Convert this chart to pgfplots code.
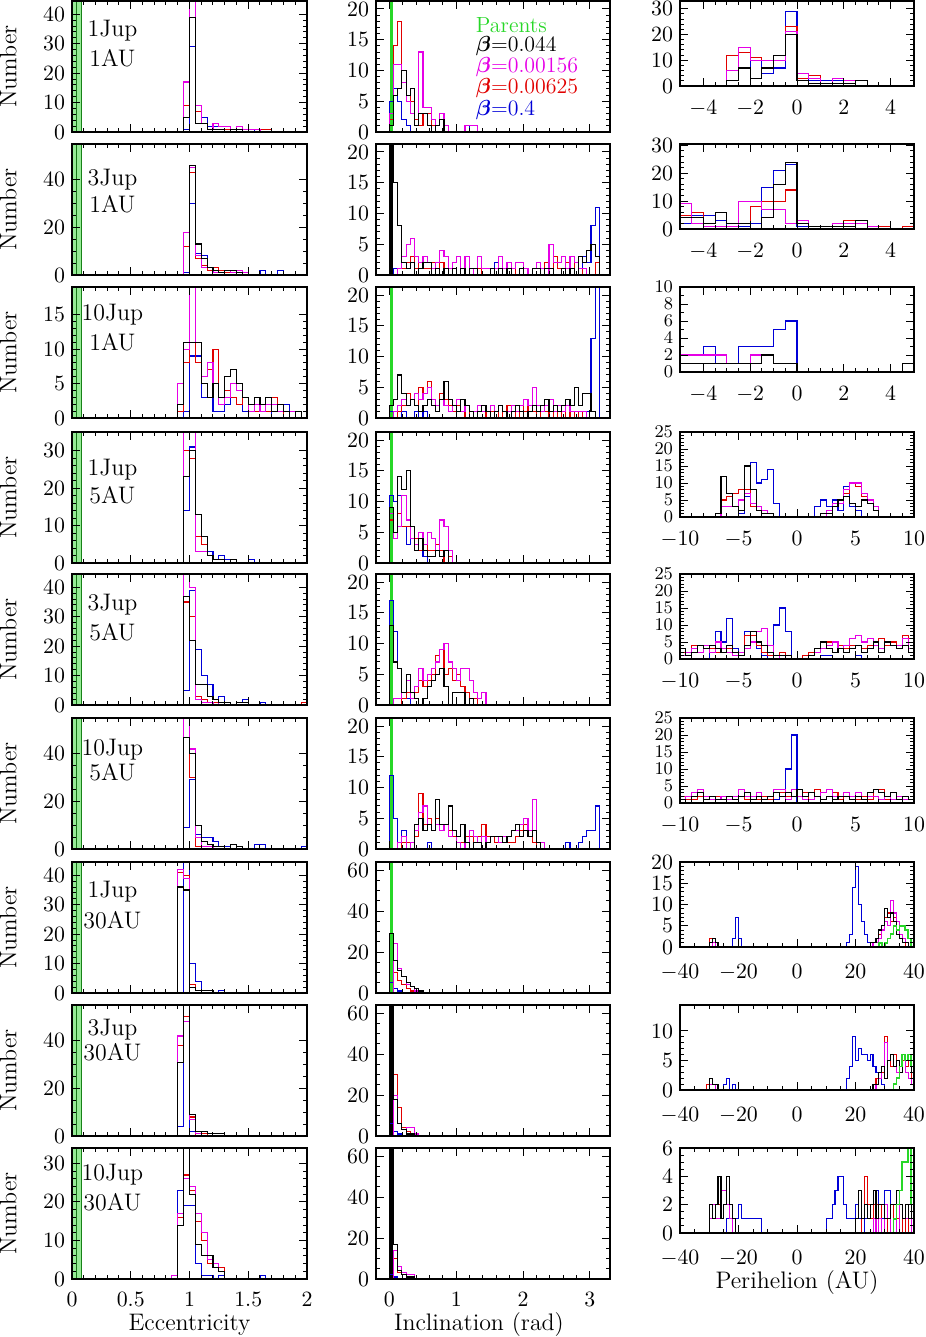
\documentclass[border=0pt]{standalone}
\usepackage{amsmath}
\usepackage{pgfplots}
\usepackage{pgfplotstable}
\pgfplotsset{compat=1.18}

\definecolor{pmag}{RGB}{230,0,230}
\definecolor{pred}{RGB}{225,0,0}
\definecolor{pblue}{RGB}{0,0,215}
\definecolor{pgreen}{RGB}{40,215,40}
\definecolor{pgfill}{RGB}{150,235,150}

\pgfplotsset{
  panel/.style={scale only axis, axis on top, clip mode=individual,
    tick align=inside, major tick length=4bp, minor tick length=2bp,
    every tick/.append style={line width=0.5bp, black},
    axis line style={line width=0.8bp},
    tick label style={font=\fontsize{11}{12}\selectfont},
    label style={font=\fontsize{12}{14}\selectfont},
    ymin=0},
  hist/.style={const plot mark left, no marks, line width=0.55bp, forget plot},
  ecc/.style={panel, width=117.5bp, height=65.5bp, xmin=0, xmax=2,
    xtick={0,0.5,1,1.5,2}, minor x tick num=4,
    xticklabel style={yshift=-3bp},
    ylabel={Number}, ylabel style={at={(axis description cs:-0.272,0.5)}, anchor=center}},
  inc/.style={panel, width=117bp, height=65.5bp, xmin=-0.2, xmax=3.3,
    xtick={0,1,2,3}, minor x tick num=4, xticklabel style={yshift=-3bp}},
  per/.style={panel, width=117bp, height=42.5bp, xticklabel style={yshift=-3.5bp}},
  tight/.style={yticklabel style={font=\fontsize{9.5}{10}\selectfont}},
  nolab/.style={xticklabels={}},
  pA/.style={xmin=-5, xmax=5, xtick={-4,-2,0,2,4}, minor x tick num=3},
  pB/.style={tight, xmin=-10, xmax=10, xtick={-10,-5,0,5,10}, minor x tick num=4,
    ymax=25, ytick={0,5,...,25}, minor y tick num=4},
  pC/.style={xmin=-40, xmax=40, xtick={-40,-20,0,20,40}, minor x tick num=3,
    xticklabel style={yshift=-1.5bp}},
  iA/.style={ymax=21.3, ytick={0,5,...,20}, minor y tick num=4},
  iB/.style={ymax=64, ytick={0,20,40,60}, minor y tick num=3},
}

\newcommand{\hists}[1]{%
  \addplot[hist, pblue] table[x=x,y=b]{#1};
  \addplot[hist, pred] table[x=x,y=r]{#1};
  \addplot[hist, pmag] table[x=x,y=m]{#1};
  \addplot[hist, black] table[x=x,y=k]{#1};}
\newcommand{\greenhist}[1]{\addplot[hist, pgreen, line width=0.8bp] table[x=x,y=g]{#1};}
\newcommand{\greenE}{%
  \addplot[fill=pgfill, draw=pgreen!60!black, line width=0.4bp, forget plot] coordinates {(0,200) (0.08,200)} \closedcycle;
  \addplot[pgreen!55!black, line width=0.4bp, forget plot] coordinates {(0.035,0) (0.035,200)};}
\newcommand{\greenI}[1]{%
  \addplot[fill=#1, draw=none, forget plot] coordinates {(0.01,200) (0.05,200)} \closedcycle;}
\newcommand{\lab}[4]{%
  \node[font=\fontsize{12}{14}\selectfont] at (rel axis cs:0.172,#1) {#2};
  \node[font=\fontsize{12}{14}\selectfont] at (rel axis cs:0.172,#3) {#4};}

% ---------------- eccentricity (bin width 0.05) ----------------
\pgfplotstableread{
x k m r b
0.95 0 0 0 0
0.95 5 17 9 1
1.00 39 60 50 29
1.05 3 9 7 9
1.10 3 3 3 5
1.15 1 1 1 2
1.20 1 3 1 2
1.25 1 2 1 2
1.30 0 2 1 2
1.35 1 1 1 1
1.40 1 2 2 1
1.45 0 1 1 1
1.50 0 1 1 1
1.55 0 1 1 0
1.60 0 0 1 0
1.65 0 0 1 0
1.70 0 0 0 0
}\eccA
\pgfplotstableread{
x k m r b
0.95 0 0 0 0
0.95 0 18 12 1
1.00 46 45 43 30
1.05 13 8 7 9
1.10 7 3 4 8
1.15 3 3 2 2
1.20 2 1 3 2
1.25 1 1 2 1
1.30 2 2 1 2
1.35 2 1 2 1
1.40 1 2 2 2
1.45 0 1 1 0
1.50 0 0 0 0
1.60 0 0 0 2
1.65 0 0 0 0
1.75 0 0 0 2
1.80 0 0 0 0
2.00 0 0 0 0
}\eccB
\pgfplotstableread{
x k m r b
0.90 0 0 0 0
0.90 2 5 1 0
0.95 11 10 8 1
1.00 11 25 11 9
1.05 11 11 8 9
1.10 5 6 6 3
1.15 3 8 7 3
1.20 5 5 10 1
1.25 3 2 3 1
1.30 6 3 4 2
1.35 7 5 3 3
1.40 5 4 2 2
1.45 3 3 3 1
1.50 2 1 2 1
1.55 3 2 1 1
1.60 2 1 2 1
1.65 3 2 1 2
1.70 1 2 3 0
1.75 2 1 1 0
1.80 1 1 0 2
1.85 0 1 0 0
1.90 1 0 0 0
1.95 0 0 0 0
}\eccC
\pgfplotstableread{
x k m r b
0.95 0 0 0 0
0.95 23 40 30 14
1.00 30 40 28 31
1.05 13 3 7 7
1.10 7 3 5 5
1.15 2 2 2 3
1.20 1 1 1 1
1.25 1 1 1 2
1.30 0 0 0 1
1.35 1 1 0 1
1.40 0 0 0 0
1.50 0 0 0 1
1.55 0 0 0 0
}\eccD
\pgfplotstableread{
x k m r b
0.95 0 0 0 0
0.95 37 50 35 5
1.00 22 40 30 39
1.05 7 2 3 19
1.10 7 1 2 10
1.15 3 1 1 7
1.20 2 0 1 2
1.25 1 1 0 3
1.30 1 0 0 1
1.35 0 0 0 0
1.40 1 0 0 1
1.45 1 0 0 2
1.50 0 0 0 0
1.60 0 0 0 1
1.65 0 0 0 0
1.95 0 0 1 0
2.00 0 0 0 0
}\eccE
\pgfplotstableread{
x k m r b
0.95 0 0 0 0
0.95 47 60 60 9
1.00 40 42 30 29
1.05 10 5 1 6
1.10 3 1 1 5
1.15 2 1 1 5
1.20 1 0 0 3
1.25 1 0 0 1
1.30 0 0 0 1
1.35 2 0 0 0
1.40 1 0 0 1
1.45 0 0 0 0
1.55 0 0 0 2
1.60 0 0 0 2
1.65 0 0 0 0
1.95 0 0 0 1
2.00 0 0 0 0
}\eccF
\pgfplotstableread{
x k m r b
0.90 0 0 0 0
0.90 36 42 41 0
0.95 35 39 40 50
1.00 2 2 3 10
1.05 1 1 1 4
1.10 1 0 0 1
1.15 1 0 0 1
1.20 0 0 0 0
1.25 0 0 0 1
1.30 0 0 0 0
}\eccG
\pgfplotstableread{
x k m r b
0.90 0 0 0 0
0.90 31 42 38 4
0.95 60 48 50 60
1.00 9 7 8 2
1.05 2 1 0 1
1.10 2 0 1 0
1.15 1 0 0 0
1.20 1 0 0 0
1.25 1 0 0 0
1.30 0 0 0 0
}\eccH
\pgfplotstableread{
x k m r b
0.85 0 0 0 0
0.85 0 1 1 0
0.90 14 17 16 23
0.95 40 26 27 19
1.00 22 24 23 19
1.05 9 17 15 4
1.10 6 12 10 1
1.15 6 5 4 1
1.20 3 4 3 0
1.25 2 2 3 1
1.30 0 0 0 0
1.60 0 0 0 1
1.65 0 0 0 0
}\eccI

% ---------------- inclination (bin width pi/50) ----------------
\pgfplotstableread{
x k m r b
0 0 0 0 0
0 1 3 2 5
0.063 6 11 14 7
0.126 7 11 18 5
0.188 10 8 8 2
0.251 6 5 6 1
0.314 7 3 5 0
0.377 1 1 2 0
0.440 3 13 1 0
0.503 3 4 3 0
0.565 1 4 3 0
0.628 0 2 1 0
0.691 1 1 0 0
0.754 2 3 0 0
0.817 0 1 0 0
0.880 0 0 0 0
1.131 0 1 0 1
1.194 0 1 0 0
1.257 0 1 0 0
1.319 0 0 0 0
}\incA
\pgfplotstableread{
x k m r b
0 0 0 0 0
0 30 0 0 0
0.063 15 0 0 1
0.126 8 1 1 0
0.188 2 3 1 0
0.251 1 5 2 0
0.314 2 6 3 0
0.377 0 3 1 0
0.440 1 2 2 0
0.503 2 3 1 0
0.565 2 2 1 0
0.628 0 1 2 0
0.691 1 2 0 0
0.754 0 4 2 0
0.817 1 3 1 0
0.880 0 1 0 0
0.942 1 2 1 0
1.005 0 3 0 0
1.068 1 1 1 0
1.131 0 3 0 0
1.194 1 1 1 0
1.257 1 0 1 0
1.319 0 3 1 0
1.382 0 1 0 0
1.445 0 1 0 0
1.508 1 0 1 0
1.571 0 1 0 2
1.634 1 3 0 0
1.696 0 1 0 0
1.759 1 2 0 0
1.822 0 1 1 0
1.885 0 2 0 0
1.948 1 2 0 0
2.011 0 1 1 0
2.073 0 0 0 0
2.136 1 1 0 0
2.199 1 2 0 0
2.262 0 1 1 0
2.325 1 0 2 0
2.388 1 5 1 0
2.450 0 2 3 0
2.513 0 2 1 0
2.576 1 3 1 0
2.639 0 1 2 0
2.702 1 3 1 0
2.765 0 2 2 0
2.827 3 1 0 0
2.890 2 1 1 3
2.953 4 0 0 2
3.016 5 0 0 8
3.079 3 0 2 11
3.142 0 0 0 0
}\incB
\pgfplotstableread{
x k m r b
0 0 0 0 0
0 2 0 0 1
0.063 3 1 0 1
0.126 7 2 1 0
0.188 4 3 2 1
0.251 2 2 4 0
0.314 3 3 3 0
0.377 2 4 2 1
0.440 1 3 5 0
0.503 2 4 4 1
0.565 3 5 6 0
0.628 2 3 3 0
0.691 1 2 2 0
0.754 3 3 4 0
0.817 6 2 3 0
0.880 3 1 2 0
0.942 2 2 1 0
1.005 1 3 2 0
1.068 3 1 1 0
1.131 2 2 0 0
1.194 1 1 1 0
1.257 0 1 1 0
1.319 1 2 2 0
1.382 2 1 1 0
1.445 1 1 0 0
1.508 0 2 1 0
1.571 1 1 1 0
1.634 2 2 0 0
1.696 1 1 1 0
1.759 0 1 2 0
1.822 1 2 1 0
1.885 2 1 0 0
1.948 1 2 2 0
2.011 0 3 1 0
2.073 1 2 2 0
2.136 2 5 1 0
2.199 1 2 0 0
2.262 2 1 1 0
2.325 3 2 1 0
2.388 1 3 0 0
2.450 2 1 1 0
2.513 1 2 0 0
2.576 2 1 1 0
2.639 3 2 0 0
2.702 2 1 1 0
2.765 5 1 0 0
2.827 2 1 1 0
2.890 4 1 0 0
2.953 4 0 0 1
3.016 1 0 0 13
3.079 0 0 0 25
3.142 0 0 0 0
}\incC
\pgfplotstableread{
x k m r b
0 0 0 0 0
0 9 8 7 11
0.063 5 4 5 10
0.126 14 6 8 11
0.188 12 11 6 6
0.251 15 7 6 3
0.314 6 4 6 6
0.377 2 3 4 3
0.440 4 5 2 2
0.503 2 3 3 1
0.565 1 5 2 0
0.628 1 4 2 0
0.691 2 2 3 0
0.754 1 7 2 0
0.817 2 6 0 0
0.880 0 2 1 0
0.942 0 0 0 0
}\incD
\pgfplotstableread{
x k m r b
0 0 0 0 0
0 13 0 0 17
0.063 7 1 0 12
0.126 6 1 0 6
0.188 2 2 1 2
0.251 5 4 2 1
0.314 2 1 1 0
0.377 1 3 2 0
0.440 0 6 4 0
0.503 1 4 3 0
0.565 3 5 4 0
0.628 4 6 5 0
0.691 5 7 8 0
0.754 6 9 9 0
0.817 3 10 5 0
0.880 0 7 6 0
0.942 2 6 4 0
1.005 2 4 5 0
1.068 2 6 3 0
1.131 0 6 2 0
1.194 1 4 1 0
1.257 0 2 1 0
1.319 0 1 0 0
1.382 0 2 0 0
1.445 0 0 0 0
}\incE
\pgfplotstableread{
x k m r b
0 0 0 0 0
0 0 0 0 12
0.063 0 0 0 5
0.126 0 1 0 1
0.188 0 2 1 3
0.251 0 0 1 1
0.314 0 1 0 0
0.377 4 3 2 0
0.440 5 6 9 0
0.503 3 7 4 0
0.565 4 4 5 1
0.628 3 3 3 0
0.691 8 4 5 0
0.754 4 3 4 0
0.817 4 4 4 0
0.880 7 2 3 0
0.942 3 3 2 0
1.005 2 1 1 0
1.068 4 0 1 0
1.131 1 1 2 0
1.194 0 3 2 0
1.257 1 2 1 0
1.319 1 1 2 0
1.382 0 2 4 0
1.445 1 1 2 0
1.508 2 2 2 0
1.571 2 2 1 0
1.634 2 1 2 0
1.696 1 2 2 0
1.759 2 2 1 0
1.822 3 3 1 0
1.885 4 3 2 0
1.948 2 4 3 0
2.011 3 5 4 0
2.073 2 3 2 0
2.136 3 8 1 0
2.199 1 1 0 0
2.262 0 1 0 0
2.325 0 0 0 0
2.639 0 0 0 1
2.702 0 0 0 0
2.827 0 0 0 1
2.890 0 0 0 2
2.953 0 0 0 3
3.016 0 0 0 3
3.079 0 0 0 7
3.142 0 0 0 0
}\incF
\pgfplotstableread{
x k m r b
0 0 0 0 0
0 29 0 0 5
0.063 16 24 10 2
0.126 11 12 6 1
0.188 8 8 4 0
0.251 5 4 2 0
0.314 3 3 1 0
0.377 2 1 0 0
0.440 1 0 0 0
0.503 0 0 0 0
}\incG
\pgfplotstableread{
x k m r b
0 0 0 0 0
0 80 0 0 6
0.063 18 20 30 2
0.126 6 6 14 1
0.188 3 3 4 0
0.251 1 4 2 0
0.314 1 4 1 0
0.377 0 1 0 0
0.440 0 0 0 0
}\incH
\pgfplotstableread{
x k m r b
0 0 0 0 0
0 80 0 0 2
0.063 17 14 10 1
0.126 4 6 3 0
0.188 2 3 2 0
0.251 1 2 1 0
0.314 1 2 0 0
0.377 0 0 0 0
}\incI

% ---------------- perihelion ----------------
\pgfplotstableread{
x k m r b
-3.0 0 0 0 0
-3.0 2 6 12 0
-2.5 7 15 13 0
-2.0 3 10 11 10
-1.5 7 10 10 5
-1.0 12 10 10 7
-0.5 20 21 23 29
0.0 2 5 3 3
0.5 1 3 4 2
1.0 1 1 1 2
1.5 1 3 1 2
2.0 1 2 2 0
2.5 2 2 0 0
3.0 0 0 0 0
}\perA
\pgfplotstableread{
x k m r b
-5.0 0 0 0 0
-5.0 4 9 5 2
-4.5 4 2 6 5
-4.0 2 1 1 5
-3.5 6 1 1 3
-3.0 2 1 0 1
-2.5 2 10 0 1
-2.0 0 10 8 2
-1.5 4 7 10 15
-1.0 16 7 10 21
-0.5 24 2 14 23
0.0 2 3 3 1
0.5 1 0 1 1
1.0 1 1 1 1
1.5 1 2 1 2
2.0 1 2 3 1
2.5 3 2 3 0
3.0 0 1 1 0
3.5 0 0 1 0
4.0 0 0 0 0
4.5 0 0 1 0
5.0 0 0 0 0
}\perB
\pgfplotstableread{
x k m r b
-5.0 0 0 0 0
-5.0 1 2 2 2
-4.5 1 2 2 2
-4.0 1 2 2 3
-3.5 1 2 2 1
-3.0 1 1 1 1
-2.5 1 1 1 3
-2.0 1 2 2 3
-1.5 2 2 2 3
-1.0 1 1 1 5
-0.5 1 1 1 6
0.0 0 0 0 0
4.5 1 0 0 0
5.0 0 0 0 0
}\perC
\pgfplotstableread{
x k m r b
-7.0 0 0 0 0
-7.0 1 0 1 0
-6.5 12 3 5 0
-6.0 7 3 6 0
-5.5 3 3 7 0
-5.0 2 5 8 1
-4.5 15 7 8 6
-4.0 8 4 3 16
-3.5 2 3 3 10
-3.0 1 2 1 11
-2.5 1 1 1 14
-2.0 0 0 0 4
-1.5 0 0 0 0
1.5 0 0 0 3
2.0 1 0 0 5
2.5 1 2 1 3
3.0 3 4 3 5
3.5 5 4 5 2
4.0 6 8 7 9
4.5 4 10 10 3
5.0 3 10 9 2
5.5 5 7 6 0
6.0 4 5 5 0
6.5 2 3 3 0
7.0 0 0 0 0
}\perD
\pgfplotstableread{
x k m r b
-10.0 0 0 0 0
-10.0 3 1 2 0
-9.5 1 2 1 0
-9.0 2 3 4 0
-8.5 4 2 4 0
-8.0 3 4 4 0
-7.5 4 2 3 4
-7.0 3 5 2 8
-6.5 2 3 2 5
-6.0 4 2 3 12
-5.5 2 1 2 3
-5.0 1 2 1 2
-4.5 4 3 7 8
-4.0 8 5 7 7
-3.5 5 8 4 3
-3.0 4 9 2 1
-2.5 2 4 1 0
-2.0 1 1 1 10
-1.5 1 0 2 15
-1.0 1 1 0 8
-0.5 0 0 0 0
0.5 0 0 1 0
1.0 1 1 2 0
1.5 3 2 2 0
2.0 5 3 3 1
2.5 3 4 5 1
3.0 2 5 5 0
3.5 3 3 4 0
4.0 2 4 3 0
4.5 3 6 4 0
5.0 4 7 4 1
5.5 2 5 3 0
6.0 3 6 4 0
6.5 5 4 5 0
7.0 2 3 6 0
7.5 5 5 4 0
8.0 4 4 5 0
8.5 3 4 3 0
9.0 4 6 7 0
9.5 2 3 6 0
10.0 0 0 0 0
}\perE
\pgfplotstableread{
x k m r b
-10.0 0 0 0 0
-10.0 1 1 2 0
-9.5 0 2 1 0
-9.0 2 3 1 0
-8.5 3 4 2 0
-8.0 1 2 1 0
-7.5 2 1 1 0
-7.0 1 1 2 0
-6.5 1 2 1 0
-6.0 2 1 1 0
-5.5 1 2 2 0
-5.0 2 4 2 0
-4.5 3 2 1 0
-4.0 1 2 1 0
-3.5 2 3 1 0
-3.0 1 1 2 0
-2.5 2 2 1 0
-2.0 3 4 3 1
-1.5 2 4 3 3
-1.0 3 1 2 10
-0.5 2 4 4 20
0.0 4 2 4 0
0.5 2 1 3 0
1.0 3 1 1 0
1.5 2 2 4 0
2.0 1 3 1 0
2.5 2 4 2 0
3.0 1 2 3 0
3.5 2 2 1 0
4.0 2 3 3 0
4.5 1 2 2 0
5.0 2 3 1 0
5.5 1 1 2 0
6.0 3 2 1 0
6.5 4 2 4 0
7.0 3 1 4 0
7.5 2 2 1 0
8.0 3 1 3 0
8.5 1 2 1 0
9.0 2 1 2 0
9.5 1 1 1 0
10.0 0 0 0 0
}\perF
\pgfplotstableread{
x k m r b g
-30 0 0 0 0 0
-30 1 0 2 0 0
-29 2 1 1 0 0
-28 1 0 1 0 0
-27 0 0 0 0 0
-22 0 0 0 2 0
-21 0 0 0 7 0
-20 0 0 0 2 0
-19 0 0 0 0 0
17 0 0 0 1 0
18 0 0 0 3 0
19 0 0 0 14 0
20 0 0 0 19 0
21 0 0 0 10 0
22 0 0 0 6 0
23 0 0 0 3 0
24 0 0 0 1 0
25 1 0 1 0 0
26 1 1 1 0 0
27 2 1 2 0 0
28 4 2 3 0 1
29 5 4 5 0 0
30 9 6 7 0 1
31 7 5 8 0 2
32 8 11 6 0 3
33 6 8 7 0 5
34 3 6 4 0 4
35 2 3 2 0 5
36 1 2 1 0 5
37 1 1 0 0 4
38 0 0 0 0 2
39 0 0 0 0 0
40 0 0 0 0 0
}\perG
\pgfplotstableread{
x k m r b g
-31 0 0 0 0 0
-31 0 0 1 0 0
-30 2 1 1 0 0
-29 1 1 1 0 0
-28 1 0 1 0 0
-27 0 0 0 0 0
-25 0 0 0 1 0
-24 0 0 0 2 0
-23 0 0 0 0 0
-22 0 0 0 1 0
-21 0 0 0 0 0
17 0 0 0 2 0
18 0 0 0 4 0
19 0 0 0 9 0
20 0 0 0 5 0
21 0 0 0 7 0
22 0 0 0 6 0
23 0 0 0 6 0
24 0 0 0 5 0
25 0 0 0 6 0
26 1 0 1 4 0
27 1 1 2 3 0
28 3 2 2 2 0
29 4 4 3 1 0
30 2 8 9 0 0
31 5 5 5 0 0
32 6 6 4 0 0
33 4 4 6 0 1
34 5 3 5 0 2
35 3 4 3 0 4
36 6 6 5 0 6
37 5 3 4 0 5
38 6 2 6 0 6
39 3 1 2 0 4
40 0 0 0 0 0
}\perH
\pgfplotstableread{
x k m r b g
-30 0 0 0 0 0
-30 2 1 1 0 0
-29 1 2 1 0 0
-28 2 1 2 0 0
-27 4 1 2 0 0
-26 1 3 3 0 0
-25 2 3 3 0 0
-24 4 2 2 1 0
-23 2 1 1 2 0
-22 1 0 0 1 0
-21 0 0 0 1 0
-20 0 0 0 2 0
-19 0 0 0 1 0
-18 0 0 0 1 0
-17 0 0 0 1 0
-16 0 0 0 1 0
-15 0 0 0 1 0
-14 0 0 0 1 0
-13 0 0 0 1 0
-12 0 0 0 0 0
10 0 0 0 1 0
11 0 0 0 1 0
12 0 0 0 2 0
13 0 0 0 3 0
14 0 0 0 4 0
15 0 0 0 4 0
16 0 0 0 2 0
17 0 0 0 1 0
18 0 0 0 1 0
19 0 0 0 1 0
20 1 0 0 2 0
21 3 0 0 1 0
22 1 0 1 0 0
23 2 0 4 1 0
24 1 0 2 2 0
25 2 0 1 1 0
26 3 1 2 3 0
27 1 0 2 3 0
28 2 1 1 2 0
29 2 0 2 1 0
30 1 2 1 3 0
31 1 1 0 3 0
32 2 0 0 2 0
33 2 1 2 1 1
34 3 0 1 1 2
35 2 2 0 0 3
36 1 1 1 0 5
37 2 1 0 0 5
38 1 1 2 0 6
39 2 0 1 0 2
40 0 0 0 0 0
}\perI

\begin{document}
\begin{tikzpicture}
\useasboundingbox (0,0) rectangle (463bp,-668.5bp);

% ================= column 1: eccentricity =================
\begin{axis}[ecc, nolab, at={(36bp,-0.5bp)}, anchor=north west, ymax=44.5, ytick={0,10,...,40}, minor y tick num=4]
\greenE \hists{\eccA} \lab{0.771}{1Jup}{0.565}{1AU}
\end{axis}
\begin{axis}[ecc, nolab, at={(36bp,-72bp)}, anchor=north west, ymax=55, ytick={0,20,40}, minor y tick num=3]
\greenE \hists{\eccB} \lab{0.725}{3Jup}{0.542}{1AU}
\end{axis}
\begin{axis}[ecc, nolab, at={(36bp,-143.5bp)}, anchor=north west, ymax=19, ytick={0,5,10,15}, minor y tick num=4]
\greenE \hists{\eccC} \lab{0.786}{10Jup}{0.580}{1AU}
\end{axis}
\begin{axis}[ecc, nolab, at={(36bp,-216bp)}, anchor=north west, ymax=35, ytick={0,10,20,30}, minor y tick num=4]
\greenE \hists{\eccD} \lab{0.710}{1Jup}{0.519}{5AU}
\end{axis}
\begin{axis}[ecc, nolab, at={(36bp,-287bp)}, anchor=north west, ymax=44.5, ytick={0,10,...,40}, minor y tick num=4]
\greenE \hists{\eccE} \lab{0.763}{3Jup}{0.557}{5AU}
\end{axis}
\begin{axis}[ecc, nolab, at={(36bp,-359bp)}, anchor=north west, ymax=55, ytick={0,20,40}, minor y tick num=3]
\greenE \hists{\eccF} \lab{0.756}{10Jup}{0.588}{5AU}
\end{axis}
\begin{axis}[ecc, nolab, at={(36bp,-431bp)}, anchor=north west, ymax=44.5, ytick={0,10,...,40}, minor y tick num=4]
\greenE \hists{\eccG} \lab{0.771}{1Jup}{0.557}{30AU}
\end{axis}
\begin{axis}[ecc, nolab, at={(36bp,-502.5bp)}, anchor=north west, ymax=55, ytick={0,20,40}, minor y tick num=3]
\greenE \hists{\eccH} \lab{0.809}{3Jup}{0.641}{30AU}
\end{axis}
\begin{axis}[ecc, at={(36bp,-574bp)}, anchor=north west, ymax=34, ytick={0,10,20,30}, minor y tick num=4,
  xlabel={Eccentricity}, xlabel style={at={(axis description cs:0.5,-0.35)}, anchor=center}]
\greenE \hists{\eccI} \lab{0.794}{10Jup}{0.588}{30AU}
\end{axis}

% ================= column 2: inclination =================
\begin{axis}[inc, iA, nolab, at={(188bp,-0.5bp)}, anchor=north west]
\greenI{pgreen} \hists{\incA}
\node[anchor=west, text=pgreen, font=\fontsize{11}{12}\selectfont] at (rel axis cs:0.397,0.817) {Parents};
\node[anchor=west, text=black, font=\fontsize{11}{12}\selectfont] at (rel axis cs:0.397,0.656) {$\boldsymbol{\beta}$=0.044};
\node[anchor=west, text=pmag, font=\fontsize{11}{12}\selectfont] at (rel axis cs:0.397,0.496) {$\boldsymbol{\beta}$=0.00156};
\node[anchor=west, text=pred, font=\fontsize{11}{12}\selectfont] at (rel axis cs:0.397,0.336) {$\boldsymbol{\beta}$=0.00625};
\node[anchor=west, text=pblue, font=\fontsize{11}{12}\selectfont] at (rel axis cs:0.397,0.168) {$\boldsymbol{\beta}$=0.4};
\end{axis}
\begin{axis}[inc, iA, nolab, at={(188bp,-72bp)}, anchor=north west]
\greenI{black} \hists{\incB}
\end{axis}
\begin{axis}[inc, iA, nolab, at={(188bp,-143.5bp)}, anchor=north west]
\greenI{pgreen} \hists{\incC}
\end{axis}
\begin{axis}[inc, iA, nolab, at={(188bp,-216bp)}, anchor=north west]
\greenI{pgreen} \hists{\incD}
\end{axis}
\begin{axis}[inc, iA, nolab, at={(188bp,-287bp)}, anchor=north west]
\greenI{pgreen} \hists{\incE}
\end{axis}
\begin{axis}[inc, iA, nolab, at={(188bp,-359bp)}, anchor=north west]
\greenI{pgreen} \hists{\incF}
\end{axis}
\begin{axis}[inc, iB, nolab, at={(188bp,-431bp)}, anchor=north west]
\greenI{pgreen} \hists{\incG}
\end{axis}
\begin{axis}[inc, iB, nolab, at={(188bp,-502.5bp)}, anchor=north west]
\greenI{black} \hists{\incH}
\end{axis}
\begin{axis}[inc, iB, at={(188bp,-574bp)}, anchor=north west,
  xlabel={Inclination (rad)}, xlabel style={at={(axis description cs:0.44,-0.35)}, anchor=center}]
\greenI{black} \hists{\incI}
\end{axis}

% ================= column 3: perihelion =================
\begin{axis}[per, pA, at={(340bp,-0.5bp)}, anchor=north west, ymax=33, ytick={0,10,20,30}, minor y tick num=4]
\hists{\perA}
\end{axis}
\begin{axis}[per, pA, at={(340bp,-72bp)}, anchor=north west, ymax=30.5, ytick={0,10,20,30}, minor y tick num=4]
\hists{\perB}
\end{axis}
\begin{axis}[per, pA, tight, at={(340bp,-143.5bp)}, anchor=north west, ymax=10, ytick={0,2,...,10}, minor y tick num=1]
\hists{\perC}
\end{axis}
\begin{axis}[per, pB, at={(340bp,-216bp)}, anchor=north west]
\hists{\perD}
\end{axis}
\begin{axis}[per, pB, at={(340bp,-287bp)}, anchor=north west]
\hists{\perE}
\end{axis}
\begin{axis}[per, pB, at={(340bp,-359bp)}, anchor=north west]
\hists{\perF}
\end{axis}
\begin{axis}[per, pC, at={(340bp,-431bp)}, anchor=north west, ymax=20, ytick={0,5,...,20}, minor y tick num=4]
\hists{\perG} \greenhist{\perG}
\end{axis}
\begin{axis}[per, pC, at={(340bp,-502.5bp)}, anchor=north west, ymax=14.4, ytick={0,5,10}, minor y tick num=4]
\hists{\perH} \greenhist{\perH}
\end{axis}
\begin{axis}[per, pC, at={(340bp,-574bp)}, anchor=north west, ymax=6, ytick={0,2,4,6}, minor y tick num=3,
  xlabel={Perihelion (AU)}, xlabel style={at={(axis description cs:0.5,-0.58)}, anchor=center}]
\hists{\perI} \greenhist{\perI}
\end{axis}
\end{tikzpicture}
\end{document}
